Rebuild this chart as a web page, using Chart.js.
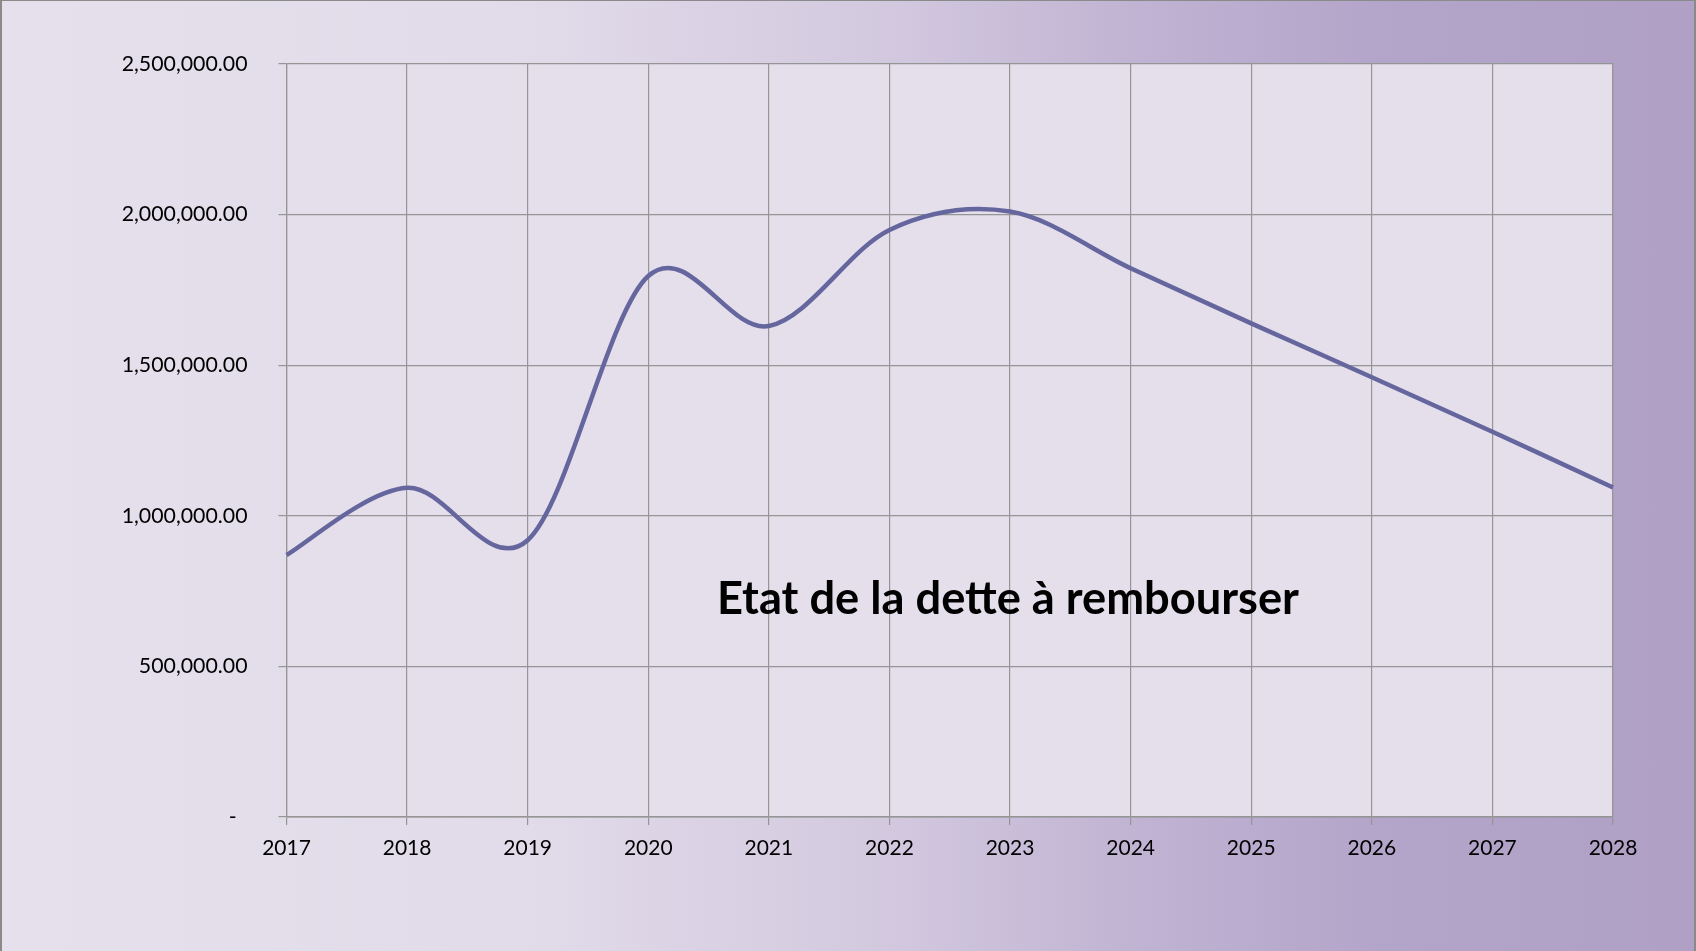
<!DOCTYPE html>
<html>
<head>
<meta charset="utf-8">
<script src="https://cdn.jsdelivr.net/npm/chart.js@4/dist/chart.umd.min.js"></script>
<style>
    html, body { margin: 0; padding: 0; }
    #frame {
        position: relative;
        width: 1696px;
        height: 951px;
        box-sizing: border-box;
        border-left: 2px solid #8a8a8a;
        border-top: 1px solid #8a8a8a;
        border-right: 2px solid #8a8a8a;
        background: linear-gradient(to right, #e5e0ec 0%, #e2dcea 30%, #d3c9df 52%, #bfb2d2 68%, #b3a4c9 82%, #b0a0c6 100%);
    }
    #detteChart { position: absolute; left: -2px; top: -1px; }
</style>
</head>
<body>
<div id="frame">
    <canvas id="detteChart" width="1696" height="951"></canvas>
</div>
<script>
// donnees
const annees = ['2017', '2018', '2019', '2020', '2021', '2022', '2023', '2024', '2025', '2026', '2027', '2028'];
const dette = [870000, 1093000, 919000, 1796000, 1630000, 1949000, 2010000, 1822000, 1639000, 1460000, 1279000, 1094000];
const titreGraphique = 'Etat de la dette à rembourser';

// fond de la zone de trace
const fondZone = {
    id: 'fondZone',
    beforeDraw(chart) {
        const { ctx, chartArea } = chart;
        ctx.save();
        ctx.fillStyle = '#e4dfeb';
        ctx.fillRect(chartArea.left, chartArea.top, chartArea.right - chartArea.left, chartArea.bottom - chartArea.top);
        ctx.restore();
    }
};

// lissage type Excel (Catmull-Rom uniforme) a partir des points places par les echelles
const lissageExcel = {
    id: 'lissageExcel',
    beforeDatasetDraw(chart, args) {
        const meta = args.meta;
        meta.dataset.updateControlPoints(chart.chartArea, 'x');
        const pts = meta.data;
        for (let i = 0; i < pts.length; i++) {
            const prev = pts[i - 1] || pts[i];
            const next = pts[i + 1] || pts[i];
            const dx = (next.x - prev.x) / 6;
            const dy = (next.y - prev.y) / 6;
            pts[i].cp1x = pts[i].x - dx;
            pts[i].cp1y = pts[i].y - dy;
            pts[i].cp2x = pts[i].x + dx;
            pts[i].cp2y = pts[i].y + dy;
        }
    }
};

// titre dans la zone de trace
const titreInterne = {
    id: 'titreInterne',
    afterDatasetsDraw(chart) {
        const ctx = chart.ctx;
        ctx.save();
        ctx.font = 'bold 45px Lato';
        ctx.fillStyle = '#000';
        ctx.textAlign = 'center';
        ctx.textBaseline = 'alphabetic';
        const w = ctx.measureText(titreGraphique).width;
        ctx.translate(1008, 614);
        ctx.scale(582 / w, 1);
        ctx.fillText(titreGraphique, 0, 0);
        ctx.restore();
    }
};

const ctx = document.getElementById('detteChart').getContext('2d');
const detteChart = new Chart(ctx, {
    type: 'line',
    data: {
        labels: annees,
        datasets: [{
            label: 'Dette',
            data: dette,
            borderColor: '#66669e',
            borderWidth: 4.5,
            pointRadius: 0,
            tension: 0.4,
            fill: false
        }]
    },
    options: {
        responsive: false,
        animation: false,
        layout: {
            padding: { left: 0, top: 64, right: 83, bottom: 0 }
        },
        plugins: {
            legend: { display: false },
            tooltip: { enabled: false }
        },
        scales: {
            x: {
                offset: false,
                afterFit: (scale) => { scale.height = 134; },
                grid: {
                    color: '#959595',
                    lineWidth: 1.2,
                    tickLength: 8,
                    drawTicks: true
                },
                border: { color: '#959595', width: 1.5 },
                ticks: {
                    color: '#000',
                    padding: 11,
                    maxRotation: 0,
                    font: { family: 'Lato', size: 21 }
                }
            },
            y: {
                min: 0,
                max: 2500000,
                afterFit: (scale) => { scale.width = 286.5; },
                grid: {
                    color: '#959595',
                    lineWidth: 1.2,
                    tickLength: 8
                },
                border: { color: '#959595', width: 1.2 },
                ticks: {
                    stepSize: 500000,
                    color: '#000',
                    padding: 31,
                    font: { family: 'Lato', size: 21.3 },
                    callback: function (value) {
                        if (value === 0) return '-  ';
                        return value.toLocaleString('en-US', { minimumFractionDigits: 2, maximumFractionDigits: 2 });
                    }
                }
            }
        }
    },
    plugins: [fondZone, lissageExcel, titreInterne]
});
</script>
</body>
</html>
